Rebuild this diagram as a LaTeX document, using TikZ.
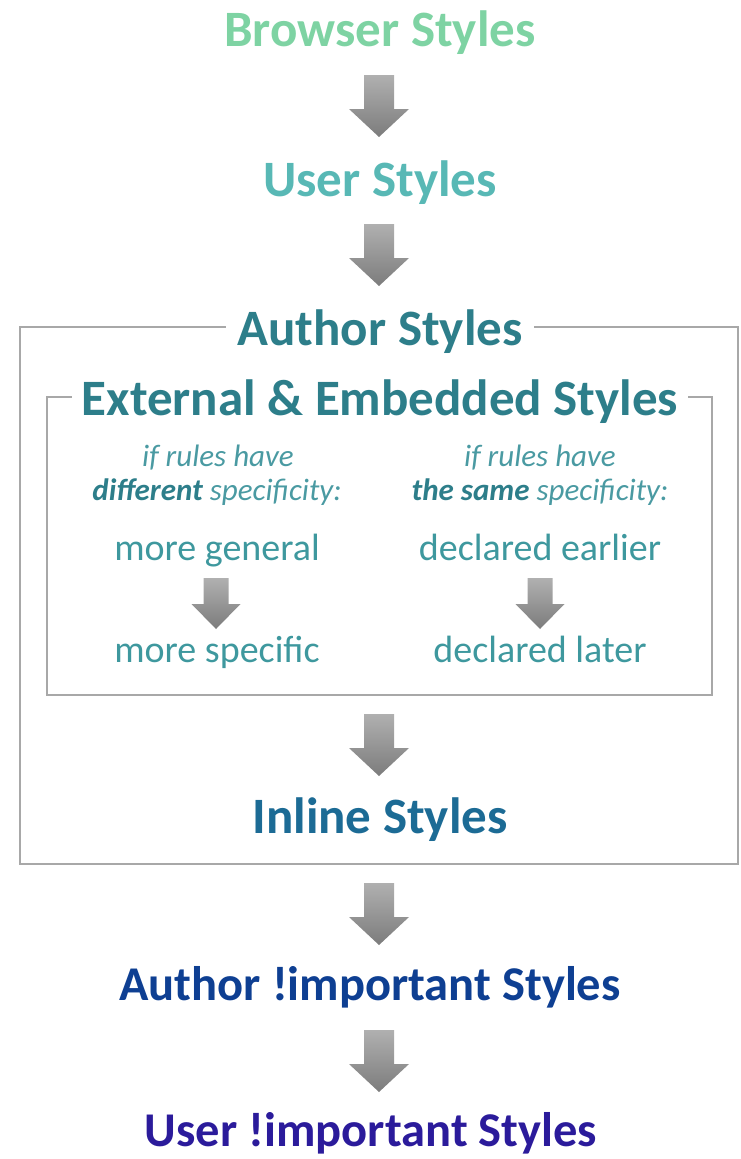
\documentclass[tikz,border=0pt]{standalone}
\usepackage{fontspec}
\setmainfont{Carlito}
\definecolor{cBrowser}{HTML}{7ED3A3}
\definecolor{cUser}{HTML}{58B8B5}
\definecolor{cAuthor}{HTML}{2D7E8A}
\definecolor{cNote}{HTML}{4A9AA2}
\definecolor{cItem}{HTML}{3E989E}
\definecolor{cInline}{HTML}{1C6B95}
\definecolor{cAImp}{HTML}{0E3F92}
\definecolor{cUImp}{HTML}{2B1B9B}
\definecolor{cLine}{HTML}{A8A8A8}
\definecolor{arrTop}{HTML}{B0B0B0}
\definecolor{arrBot}{HTML}{7C7C7C}
\tikzset{
  bigarr/.pic={\shade[top color=arrTop,bottom color=arrBot]
    (-15,0) -- (15,0) -- (15,34) -- (30,34) -- (0,62) -- (-30,34) -- (-15,34) -- cycle;},
  smallarr/.pic={\shade[top color=arrTop,bottom color=arrBot]
    (-12.5,0) -- (12.5,0) -- (12.5,26) -- (24.5,26) -- (0,51) -- (-24.5,26) -- (-12.5,26) -- cycle;}
}
\begin{document}
\begin{tikzpicture}[x=1pt,y=-1pt,
  ttl/.style={anchor=base,inner sep=0pt,font=\bfseries\fontsize{51}{60}\selectfont},
  impttl/.style={anchor=base,inner sep=0pt,font=\bfseries\fontsize{48.5}{58}\selectfont},
  boxttl/.style={ttl,fill=white,inner xsep=12pt,inner ysep=4pt},
  note/.style={anchor=base,inner sep=0pt,text=cNote,font=\itshape\fontsize{31}{36}\selectfont},
  item/.style={anchor=base,inner sep=0pt,text=cItem,font=\fontsize{38}{44}\selectfont},
  frame/.style={draw=cLine,line width=2pt}]
\useasboundingbox (0,0) rectangle (740,1159);
% boxes
\draw[frame] (20,327) rectangle (738,864);
\draw[frame] (47,397) rectangle (712,695);
% titles
\node[ttl,text=cBrowser] (bro) at (380,46) {Browser Styles};
\node[ttl,text=cUser] (usr) at (380,196) {User Styles};
\node[boxttl,text=cAuthor] (auth) at (380,345) {Author Styles};
\node[boxttl,text=cAuthor,inner xsep=10pt] (ext) at (380,415) {External \& Embedded Styles};
% left column
\node[note] (lif) at (218,466) {if rules have};
\node[note] (ldif) at (217,500) {\textcolor{cAuthor}{\bfseries different} specificity:};
\node[item] (lgen) at (217,560) {more general};
\node[item] (lspc) at (217,662) {more specific};
% right column
\node[note] (rif) at (540,466) {if rules have};
\node[note] (rsam) at (540,500) {\textcolor{cAuthor}{\bfseries the same} specificity:};
\node[item] (rear) at (540,560) {declared earlier};
\node[item] (rlat) at (540,662) {declared later};
% lower titles
\node[ttl,text=cInline] (inl) at (380,833) {Inline Styles};
\node[impttl,text=cAImp] (aimp) at (370,1000) {Author !important Styles};
\node[impttl,text=cUImp] (uimp) at (371,1146) {User !important Styles};
% arrows
\pic at (379,75) {bigarr};
\pic at (379,224) {bigarr};
\pic at (379,714) {bigarr};
\pic at (379,883) {bigarr};
\pic at (379,1030) {bigarr};
\pic at (216,578) {smallarr};
\pic at (540,578) {smallarr};
\end{tikzpicture}
\end{document}
